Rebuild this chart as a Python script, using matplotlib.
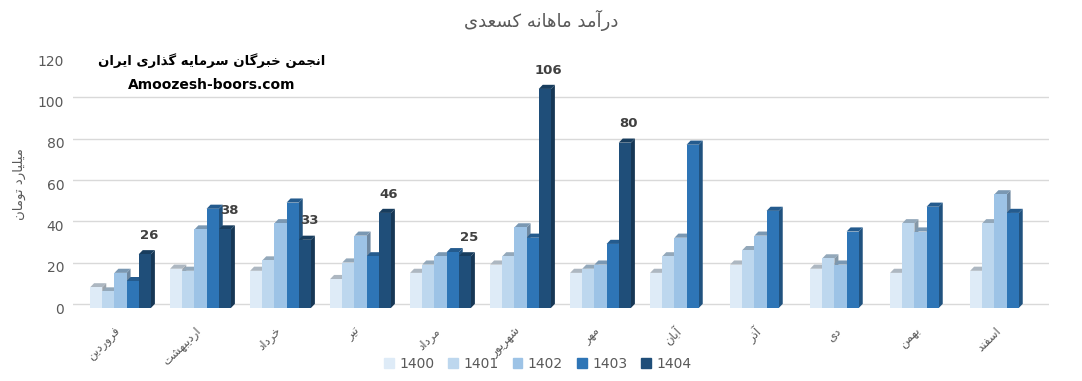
import numpy as np
import matplotlib
matplotlib.use("Agg")
import matplotlib.pyplot as plt
from matplotlib.patches import Polygon, Patch

# monthly revenue, billion toman
months = ["فروردین", "اردیبهشت", "خرداد", "تیر", "مرداد", "شهریور",
          "مهر", "آبان", "آذر", "دی", "بهمن", "اسفند"]
years = ["1400", "1401", "1402", "1403", "1404"]
rev_1400 = [10, 19, 18, 14, 17, 21, 17, 17, 21, 19, 17, 18]
rev_1401 = [8, 18, 23, 22, 21, 25, 19, 25, 28, 24, 41, 41]
rev_1402 = [17, 38, 41, 35, 25, 39, 21, 34, 35, 21, 37, 55]
rev_1403 = [13, 48, 51, 25, 27, 34, 31, 79, 47, 37, 49, 46]
rev_1404 = [26, 38, 33, 46, 25, 106, 80, None, None, None, None, None]
series = [rev_1400, rev_1401, rev_1402, rev_1403, rev_1404]
colors = ["#deebf7", "#bdd7ee", "#9dc3e6", "#2e75b6", "#1f4e79"]

title = "درآمد ماهانه کسعدی"
ylabel = "میلیارد تومان"
brand_fa = "انجمن خبرگان سرمایه گذاری ایران"
brand_en = "Amoozesh-boors.com"

# --- tiny persian shaper (matplotlib has no complex text layout) ---
FORMS = {  # isolated, final, initial, medial
    "ا": (0xFE8D, 0xFE8E), "آ": (0xFE81, 0xFE82),
    "ب": (0xFE8F, 0xFE90, 0xFE91, 0xFE92), "ت": (0xFE95, 0xFE96, 0xFE97, 0xFE98),
    "ج": (0xFE9D, 0xFE9E, 0xFE9F, 0xFEA0), "خ": (0xFEA5, 0xFEA6, 0xFEA7, 0xFEA8),
    "د": (0xFEA9, 0xFEAA), "ذ": (0xFEAB, 0xFEAC), "ر": (0xFEAD, 0xFEAE),
    "ز": (0xFEAF, 0xFEB0), "س": (0xFEB1, 0xFEB2, 0xFEB3, 0xFEB4),
    "ش": (0xFEB5, 0xFEB6, 0xFEB7, 0xFEB8), "ع": (0xFEC9, 0xFECA, 0xFECB, 0xFECC),
    "ف": (0xFED1, 0xFED2, 0xFED3, 0xFED4), "ل": (0xFEDD, 0xFEDE, 0xFEDF, 0xFEE0),
    "م": (0xFEE1, 0xFEE2, 0xFEE3, 0xFEE4), "ن": (0xFEE5, 0xFEE6, 0xFEE7, 0xFEE8),
    "ه": (0xFEE9, 0xFEEA, 0xFEEB, 0xFEEC), "و": (0xFEED, 0xFEEE),
    "ک": (0xFB8E, 0xFB8F, 0xFB90, 0xFB91), "گ": (0xFB92, 0xFB93, 0xFB94, 0xFB95),
    "ی": (0xFBFC, 0xFBFD, 0xFBFE, 0xFBFF),
}


def shape(s):
    out = []
    for i, c in enumerate(s):
        if c not in FORMS:
            out.append(c)
            continue
        p = s[i - 1] if i > 0 else ""
        n = s[i + 1] if i + 1 < len(s) else ""
        join_prev = p in FORMS and len(FORMS[p]) == 4
        join_next = n in FORMS and len(FORMS[c]) == 4
        f = FORMS[c]
        if join_prev and join_next:
            out.append(chr(f[3]))
        elif join_prev:
            out.append(chr(f[1]))
        elif join_next:
            out.append(chr(f[2]))
        else:
            out.append(chr(f[0]))
    return "".join(out)[::-1]


plt.rcParams["font.family"] = ["DejaVu Sans"]
gray = "#595959"

fig = plt.figure(figsize=(10.82, 3.81), dpi=100)
ax = fig.add_axes([72.5 / 1082, 1 - 308 / 381, 976 / 1082, 248 / 381])
ax.set_xlim(-0.6, 11.6)
ax.set_ylim(0, 120)

w = 0.152
dx, dy = 0.05, 2.0
x = np.arange(len(months))


def darker(c, f):
    r, g, b = matplotlib.colors.to_rgb(c)
    return (r * f, g * f, b * f)


for yv in range(0, 121, 20):
    ax.axhline(yv + dy, color="#d9d9d9", lw=1, zorder=0)

for j, (vals, col) in enumerate(zip(series, colors)):
    for i, v in enumerate(vals):
        if v is None:
            continue
        x0 = x[i] + (j - 2.5) * w
        x1 = x0 + w
        side = Polygon([(x1, 0), (x1 + dx, dy), (x1 + dx, v + dy), (x1, v)],
                       closed=True, fc=darker(col, 0.7), ec="none", zorder=2)
        top = Polygon([(x0, v), (x0 + dx, v + dy), (x1 + dx, v + dy), (x1, v)],
                      closed=True, fc=darker(col, 0.78), ec="none", zorder=2)
        ax.add_patch(side)
        ax.add_patch(top)
        ax.bar(x0, v, width=w, align="edge", color=col, zorder=3)
        if j == 4:
            ax.text(x0 + w / 2 + dx, v + dy + 4, str(v), ha="center", va="bottom",
                    fontsize=9.5, fontweight="bold", color="#404040", zorder=4)

for s in ax.spines.values():
    s.set_visible(False)
ax.tick_params(length=0)
ax.set_yticks(range(0, 121, 20))
ax.set_yticklabels([str(t) for t in range(0, 121, 20)], color=gray, fontsize=10)
ax.tick_params(axis="y", pad=6)
ax.set_xticks(x - 0.08)
ax.set_xticklabels([shape(m) for m in months], rotation=45, ha="right",
                   rotation_mode="anchor", color=gray, fontsize=8.5)
ax.tick_params(axis="x", pad=12)

ax.set_ylabel(shape(ylabel), color=gray, fontsize=9.5)
ax.yaxis.set_label_coords(-47 / 976, 0.5)

fig.text(0.5, 1 - 20 / 381, shape(title), ha="center", va="center",
         color=gray, fontsize=13)
fig.text(212 / 1082, 1 - 61 / 381, shape(brand_fa), ha="center", va="center",
         fontsize=9.5, fontweight="bold", color="black")
fig.text(212 / 1082, 1 - 85 / 381, brand_en, ha="center", va="center",
         fontsize=10, fontweight="bold", color="black")

handles = [Patch(color=c) for c in colors]
fig.legend(handles, years, loc="center", bbox_to_anchor=(0.497, 1 - 364 / 381),
           ncol=5, frameon=False, fontsize=10, labelcolor=gray,
           handlelength=0.7, handleheight=0.7, handletextpad=0.4, columnspacing=1.0)

fig.savefig("out.png", dpi=100)
